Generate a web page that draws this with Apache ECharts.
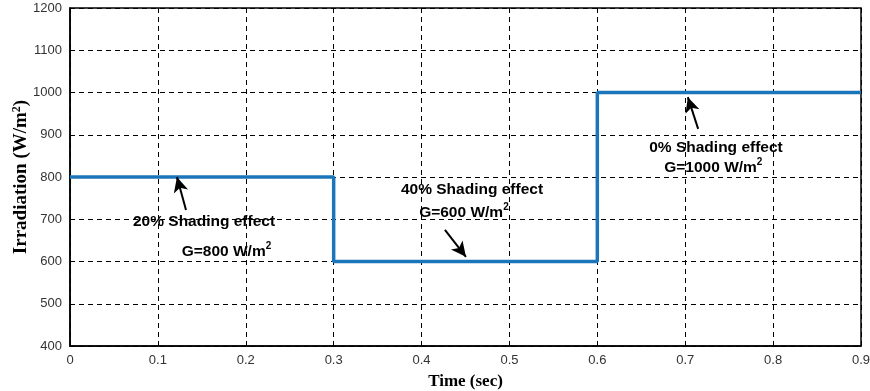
<!DOCTYPE html>
<html>
<head>
<meta charset="utf-8">
<script src="https://cdn.jsdelivr.net/npm/echarts@6/dist/echarts.min.js"></script>
<style>
  html, body { margin: 0; padding: 0; background: #fff; }
  #chart { width: 870px; height: 391px; }
</style>
</head>
<body>
<div id="chart"></div>
<script>
// Irradiation profile: step changes at 0.3 s and 0.6 s
const timeSec = [0, 0.3, 0.6, 0.9];
const irradiance = [800, 600, 1000, 1000];

const xTicks = { min: 0, max: 0.9, interval: 0.1 };
const yTicks = { min: 400, max: 1200, interval: 100 };

// Annotation arrows: [tail, head] in (time, irradiance)
const arrowTails = [[0.132, 722], [0.4266, 675], [0.7147, 914]];
const arrowHeads = [[0.1217, 800], [0.4505, 611], [0.703, 989]];

// Annotation captions: [time, irradiance, text]
const captionPos = [[0.1525, 694], [0.178, 622], [0.4574, 769], [0.4482, 715], [0.735, 869], [0.732, 821]];
const captionText = [
  '20% Shading effect', 'G=800 W/m{s|2}',
  '40% Shading effect', 'G=600 W/m{s|2}',
  '0% Shading effect', 'G=1000 W/m{s|2}'
];

const chart = echarts.init(document.getElementById('chart'));

const stepData = timeSec.map((t, i) => [t, irradiance[i]]);
const arrowLines = arrowTails.map((tail, i) => [
  { coord: tail, symbol: 'none' },
  { coord: arrowHeads[i], symbol: 'arrow' }
]);
const captions = captionPos.map((p, i) => ({ value: [p[0], p[1]], text: captionText[i] }));

chart.setOption({
  animation: false,
  grid: {
    left: 70, right: 9, top: 8, bottom: 45,
    outerBoundsMode: 'none',
    containLabel: false,
    show: true, borderColor: '#000', borderWidth: 1.5, backgroundColor: 'transparent'
  },
  xAxis: {
    type: 'value',
    min: xTicks.min, max: xTicks.max, interval: xTicks.interval,
    name: 'Time (sec)', nameLocation: 'middle', nameGap: 27, nameMoveOverlap: false,
    nameTextStyle: { fontFamily: 'Liberation Serif', fontWeight: 'bold', fontSize: 17, color: '#000' },
    axisLine: { show: true, lineStyle: { color: '#000', width: 1.5 } },
    axisTick: { show: false },
    axisLabel: { color: '#333', fontFamily: 'Liberation Sans', fontSize: 13, margin: 8,
      formatter: v => (Math.round(v * 10) / 10).toString() },
    splitLine: { show: true, lineStyle: { color: '#000', type: [5, 4], width: 1 } }
  },
  yAxis: {
    type: 'value',
    min: yTicks.min, max: yTicks.max, interval: yTicks.interval,
    name: 'Irradiation (W/m{s|2})', nameLocation: 'middle', nameGap: 38, nameMoveOverlap: false,
    nameTextStyle: { fontFamily: 'Liberation Serif', fontWeight: 'bold', fontSize: 19, color: '#000',
      rich: { s: { fontFamily: 'Liberation Serif', fontWeight: 'bold', fontSize: 12, verticalAlign: 'top', padding: [0, 0, 9, 0] } } },
    axisLine: { show: true, lineStyle: { color: '#000', width: 1.5 } },
    axisTick: { show: false },
    axisLabel: { color: '#333', fontFamily: 'Liberation Sans', fontSize: 13, margin: 8,
      formatter: v => String(v) },
    splitLine: { show: true, lineStyle: { color: '#000', type: [5, 4], width: 1 } }
  },
  series: [
    {
      type: 'line',
      data: stepData,
      step: 'end',
      symbol: 'none',
      lineStyle: { color: '#1b75bb', width: 3.5 },
      markLine: {
        silent: true,
        symbolSize: [11, 15],
        label: { show: false },
        lineStyle: { color: '#000', width: 2, type: 'solid' },
        data: arrowLines
      }
    },
    {
      type: 'scatter',
      data: captions,
      symbolSize: 0,
      silent: true,
      itemStyle: { opacity: 1 },
      label: {
        show: true,
        position: 'inside',
        formatter: p => p.data.text,
        color: '#000',
        textBorderWidth: 0,
        fontFamily: 'Liberation Sans',
        fontWeight: 'bold',
        fontSize: 15.5,
        rich: {
          s: { fontFamily: 'Liberation Sans', fontWeight: 'bold', fontSize: 10, color: '#000', textBorderWidth: 0, verticalAlign: 'top', padding: [0, 0, 11, 0] }
        }
      }
    }
  ]
});
</script>
</body>
</html>
